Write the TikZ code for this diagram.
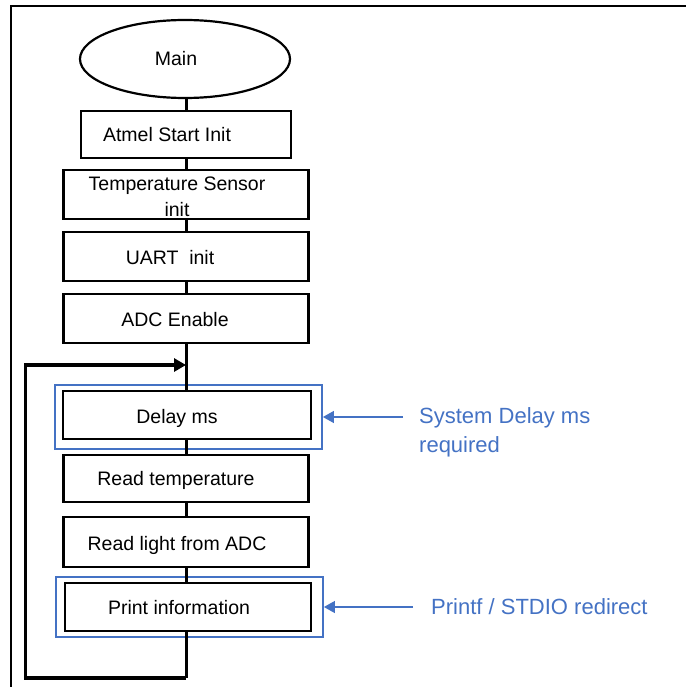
\documentclass[tikz,border=0pt]{standalone}
\usepackage{fontspec}
\setmainfont{Liberation Sans}
\usetikzlibrary{shapes.geometric,arrows.meta}
\definecolor{hlblue}{HTML}{4472C4}
\begin{document}
\begin{tikzpicture}[x=1pt,y=-1pt,
  stepbox/.style={draw, rectangle, line width=2.4pt, inner sep=0pt},
  hlbox/.style={draw=hlblue, rectangle, line width=1.8pt, inner sep=0pt},
  lbl/.style={inner sep=0pt, font=\fontsize{19.5}{26}\selectfont, align=center},
  note/.style={inner sep=0pt, text=hlblue, font=\fontsize{22}{29}\selectfont, align=left, anchor=west},
  flow/.style={line width=3pt},
  loopline/.style={line width=3.4pt},
  notearrow/.style={hlblue, line width=1.2pt, -{Triangle[length=11pt,width=12pt]}}]
\useasboundingbox (0,0) rectangle (686,687);
% outer frame (top and left edges only)
\draw[line width=2pt] (11,687) -- (11,6.5) -- (686,6.5);

% nodes
\node[draw, ellipse, line width=2.2pt, minimum width=210pt, minimum height=78pt] (main) at (185,59) {};
\node[lbl] (tmain) at (176,59) {Main};

\node[stepbox, minimum width=210pt, minimum height=47pt] (atmel) at (186,134.5) {};
\node[lbl] (tatmel) at (167,135) {Atmel Start Init};

\node[stepbox, minimum width=245pt, minimum height=49pt] (temp) at (186,194.5) {};
\node[lbl] (ttemp) at (177,197) {Temperature Sensor\\init};

\node[stepbox, minimum width=245pt, minimum height=49pt] (uart) at (186,256.5) {};
\node[lbl] (tuart) at (170,258) {UART\ \ init};

\node[stepbox, minimum width=245pt, minimum height=49pt] (adc) at (186,318.5) {};
\node[lbl] (tadc) at (175,320) {ADC Enable};

\node[hlbox, minimum width=267pt, minimum height=64pt] (delayhl) at (188.5,417) {};
\node[stepbox, minimum width=248pt, minimum height=48pt] (delay) at (187,415) {};
\node[lbl] (tdelay) at (177,418) {Delay ms};

\node[stepbox, minimum width=245pt, minimum height=47pt] (readt) at (186,478.5) {};
\node[lbl] (treadt) at (176,480) {Read temperature};

\node[stepbox, minimum width=245pt, minimum height=50pt] (readl) at (186,542) {};
\node[lbl] (treadl) at (177,545) {Read light from ADC};

\node[hlbox, minimum width=267pt, minimum height=60pt] (printhl) at (189.5,607) {};
\node[stepbox, minimum width=246pt, minimum height=48pt] (print) at (188,607) {};
\node[lbl] (tprint) at (179,608) {Print information};

% notes
\node[note] (note1) at (419,432) {System Delay ms\\required};
\node[note] (note2) at (431,607) {Printf / STDIO redirect};
\coordinate (n1tail) at (403,417);
\coordinate (n2tail) at (413,607);
\draw[notearrow] (n1tail) -- (delayhl.east |- n1tail);
\draw[notearrow] (n2tail) -- (printhl.east |- n2tail);

% flow connectors
\draw[flow] (main.south -| atmel.north) -- (atmel.north);
\draw[flow] (atmel.south) -- (atmel.south |- temp.north);
\draw[flow] (temp.south) -- (temp.south |- uart.north);
\draw[flow] (uart.south) -- (uart.south |- adc.north);
\draw[flow] (adc.south) -- (adc.south |- delay.north);
\draw[flow] (delay.south -| adc.south) -- (adc.south |- readt.north);
\draw[flow] (readt.south) -- (readt.south |- readl.north);
\draw[flow] (readl.south) -- (readl.south |- print.north);

% loop back
\coordinate (join) at (186,365);
\coordinate (lbot) at (186,678);
\coordinate (lcorner) at (25.5,678);
\draw[flow] (print.south -| readl.south) -- (lbot);
\draw[loopline, -{Triangle[length=12pt,width=13pt]}] (lbot) -- (lcorner) |- (join);
\end{tikzpicture}
\end{document}
